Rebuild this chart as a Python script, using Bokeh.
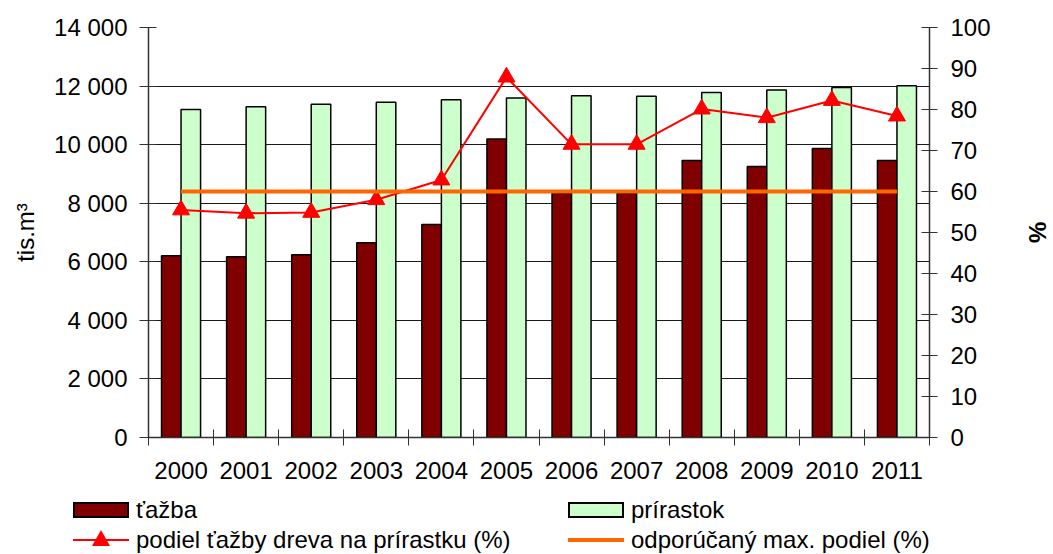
import numpy as np
from bokeh.plotting import figure
from bokeh.layouts import column
from bokeh.models import Range1d, LinearAxis, FixedTicker, ColumnDataSource, Div
from bokeh.embed import file_html
from bokeh.resources import INLINE

years = ["2000", "2001", "2002", "2003", "2004", "2005",
         "2006", "2007", "2008", "2009", "2010", "2011"]
tazba = [6210, 6170, 6240, 6650, 7270, 10190, 8340, 8340, 9460, 9250, 9870, 9460]
prirastok = [11200, 11290, 11380, 11450, 11530, 11590, 11670, 11650, 11780, 11870, 11950, 12010]
podiel = [55.5, 54.7, 54.9, 58.0, 62.8, 87.9, 71.5, 71.5, 80.1, 78.0, 82.2, 78.4]
odporucany = [60] * 12

left_ticks = [0, 2000, 4000, 6000, 8000, 10000, 12000, 14000]
right_ticks = list(range(0, 101, 10))

labels = ["ťažba", "prírastok", "podiel ťažby dreva na prírastku (%)", "odporúčaný max. podiel (%)"]

FONT = "Liberation Sans"
FS = "24px"
C_TAZBA = "#800000"
C_PRIR = "#CCFFCC"
C_POD = "#FF0000"
C_ODP = "#FF6600"

W = 1053
H_MAIN = 490
H_LEG = 64

xc = np.arange(len(years)) + 0.5
src = ColumnDataSource(dict(x=xc, xl=xc - 0.15, xr=xc + 0.15, tazba=tazba,
                            prirastok=prirastok, podiel=podiel, odp=odporucany))

p = figure(width=W, height=H_MAIN, x_range=Range1d(0, len(years)), y_range=Range1d(0, 14000),
           output_backend="svg", toolbar_location=None,
           min_border_left=148, min_border_right=120, min_border_top=27,
           min_border_bottom=H_MAIN - 437)
p.extra_y_ranges = {"pct": Range1d(0, 100)}
p.outline_line_color = None

p.vbar(x="xl", top="tazba", width=0.3, source=src, fill_color=C_TAZBA,
       line_color="black", line_width=1.5)
p.vbar(x="xr", top="prirastok", width=0.3, source=src, fill_color=C_PRIR,
       line_color="black", line_width=1.5)
p.line(x="x", y="podiel", source=src, y_range_name="pct", line_color=C_POD, line_width=2)
p.scatter(x="x", y="podiel", source=src, y_range_name="pct", marker="triangle", size=17,
          fill_color=C_POD, line_color=C_POD)
p.line(x="x", y="odp", source=src, y_range_name="pct", line_color=C_ODP, line_width=4)

# x axis
xa = p.xaxis[0]
xa.ticker = FixedTicker(ticks=list(xc), minor_ticks=list(range(len(years) + 1)))
xa.major_label_overrides = {float(v): y for v, y in zip(xc, years)}
xa.major_tick_in = 0
xa.major_tick_out = 0
xa.minor_tick_in = 8
xa.minor_tick_out = 8
xa.minor_tick_line_color = "#333333"
xa.major_label_standoff = 16
xa.axis_line_color = "#333333"
xa.axis_line_width = 1.5

# left axis
ya = p.yaxis[0]
ya.ticker = FixedTicker(ticks=left_ticks)
ya.major_label_overrides = {t: f"{t:,}".replace(",", " ") for t in left_ticks}
ya.major_tick_in = 8
ya.major_tick_out = 9
ya.minor_tick_in = 0
ya.minor_tick_out = 0
ya.major_label_standoff = 12
ya.axis_label = "tis.m³"
ya.axis_label_standoff = 12
ya.axis_label_text_font_style = "normal"
ya.axis_line_color = "#333333"
ya.axis_line_width = 1.5
ya.major_tick_line_color = "#333333"

# right axis
ra = LinearAxis(y_range_name="pct", ticker=FixedTicker(ticks=right_ticks))
ra.major_tick_in = 8
ra.major_tick_out = 8
ra.minor_tick_in = 0
ra.minor_tick_out = 0
ra.major_label_standoff = 13
ra.axis_label = "%"
ra.axis_label_standoff = 30
ra.axis_label_text_font_style = "bold"
ra.axis_line_color = "#333333"
ra.axis_line_width = 1.5
ra.major_tick_line_color = "#333333"
p.add_layout(ra, "right")

for ax in (xa, ya, ra):
    ax.major_label_text_font = FONT
    ax.major_label_text_font_size = FS
    ax.major_label_text_color = "black"
    ax.axis_label_text_font = FONT
    ax.axis_label_text_font_size = FS
    ax.axis_label_text_color = "black"

p.xgrid.visible = False
p.ygrid.grid_line_color = "#1a1a1a"
p.ygrid.grid_line_width = 1

# legend strip below the chart (two columns, two rows)
def box(left, top, w, h, style):
    return (f'<div style="position:absolute;left:{left}px;top:{top}px;width:{w}px;'
            f'height:{h}px;box-sizing:border-box;{style}"></div>')

def label(left, center, txt):
    return (f'<div style="position:absolute;left:{left}px;top:{center - 14}px;'
            f'height:28px;line-height:28px;white-space:nowrap;">{txt}</div>')

r1, r2 = 20, 50
c1, c2 = 73, 568
parts = [
    box(c1, r1 - 8, 56, 16, f"background:{C_TAZBA};border:2px solid black;"),
    label(c1 + 63, r1, labels[0]),
    box(c2, r1 - 8, 56, 16, f"background:{C_PRIR};border:2px solid black;"),
    label(c2 + 63, r1, labels[1]),
    box(c1, r2 - 1, 56, 2, f"background:{C_POD};"),
    box(c1 + 19, r2 - 10, 18, 16,
        f"border-left:9px solid transparent;border-right:9px solid transparent;"
        f"border-bottom:16px solid {C_POD};"),
    label(c1 + 63, r2, labels[2]),
    box(c2, r2 - 2, 56, 4, f"background:{C_ODP};"),
    label(c2 + 63, r2, labels[3]),
]
html = (f'<div style="position:relative;width:{W}px;height:{H_LEG}px;'
        f"font-family:'{FONT}';font-size:{FS};color:black;\">" + "".join(parts) + "</div>")
leg = Div(text=html, width=W, height=H_LEG, margin=0)

layout = column(p, leg, spacing=0)
open("out.html", "w").write(file_html(layout, INLINE))
